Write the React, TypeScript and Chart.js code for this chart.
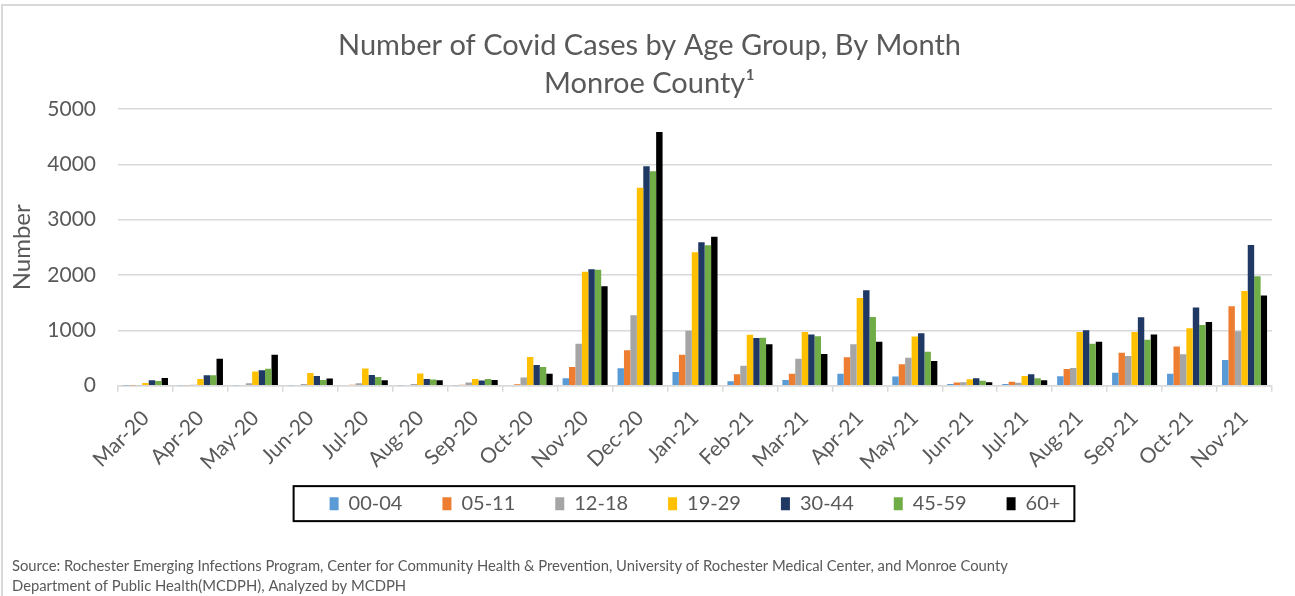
import React, { useEffect, useRef } from "react";
import { Chart, registerables } from "chart.js";

Chart.register(...registerables);

const months = [
  "Mar-20", "Apr-20", "May-20", "Jun-20", "Jul-20", "Aug-20", "Sep-20", "Oct-20",
  "Nov-20", "Dec-20", "Jan-21", "Feb-21", "Mar-21", "Apr-21", "May-21", "Jun-21",
  "Jul-21", "Aug-21", "Sep-21", "Oct-21", "Nov-21",
];

const age00to04 = [2, 5, 8, 8, 10, 8, 8, 10, 133, 313, 247, 78, 102, 217, 163, 28, 30, 169, 235, 217, 464];
const age05to11 = [3, 8, 12, 12, 15, 12, 14, 25, 337, 639, 560, 205, 217, 512, 386, 55, 72, 301, 596, 705, 1434];
const age12to18 = [8, 15, 42, 30, 42, 30, 55, 145, 759, 1271, 994, 358, 488, 747, 506, 62, 54, 319, 536, 566, 982];
const age19to29 = [48, 121, 255, 230, 309, 218, 121, 518, 2060, 3578, 2410, 920, 970, 1584, 886, 115, 175, 970, 970, 1036, 1711];
const age30to44 = [97, 188, 279, 176, 194, 121, 91, 373, 2102, 3964, 2590, 861, 922, 1723, 946, 135, 205, 1000, 1235, 1410, 2542];
const age45to59 = [85, 188, 303, 103, 158, 109, 121, 337, 2096, 3873, 2536, 867, 892, 1241, 614, 90, 133, 759, 831, 1096, 1976];
const age60plus = [139, 485, 558, 127, 97, 97, 103, 217, 1795, 4584, 2693, 747, 572, 795, 446, 60, 96, 795, 922, 1151, 1627];

const seriesLabels = ["00-04", "05-11", "12-18", "19-29", "30-44", "45-59", "60+"];
const seriesColors = ["#5B9BD5", "#ED7D31", "#A5A5A5", "#FFC000", "#203864", "#70AD47", "#000000"];
const seriesValues = [age00to04, age05to11, age12to18, age19to29, age30to44, age45to59, age60plus];

const titleLines = ["Number of Covid Cases by Age Group, By Month", "Monroe County\u00B9"];
const sourceLines = [
  "Source: Rochester Emerging Infections Program, Center for Community Health & Prevention, University of Rochester Medical Center, and Monroe County",
  "Department of Public Health(MCDPH), Analyzed by MCDPH",
];
const yAxisTitle = "Number";

const FONT = 'Lato, "Open Sans", "Noto Sans", sans-serif';
const TEXT = "#595959";
const GRID = "#D9D9D9";

const framePlugin = {
  id: "frame",
  beforeDraw(chart: any) {
    const ctx = chart.ctx;
    ctx.save();
    ctx.fillStyle = "#ffffff";
    ctx.fillRect(0, 0, chart.width, chart.height);
    ctx.strokeStyle = GRID;
    ctx.lineWidth = 2;
    ctx.strokeRect(2, 5, chart.width + 20, chart.height + 20);
    ctx.restore();
  },
  afterDraw(chart: any) {
    const lg = chart.legend;
    if (!lg || !lg.legendHitBoxes || !lg.legendHitBoxes.length) return;
    const hb = lg.legendHitBoxes;
    const first = hb[0];
    const last = hb[hb.length - 1];
    const cy = first.top + first.height / 2;
    const ctx = chart.ctx;
    ctx.save();
    ctx.strokeStyle = "#000000";
    ctx.lineWidth = 2;
    const left = first.left - 36;
    const right = last.left + last.width + 14;
    ctx.strokeRect(left, cy - 17.5, right - left, 35);
    ctx.restore();
  },
};

export default function App() {
  const ref = useRef<HTMLCanvasElement | null>(null);

  useEffect(() => {
    if (!ref.current) return;
    const chart = new Chart(ref.current, {
      type: "bar",
      data: {
        labels: months,
        datasets: seriesLabels.map((label, i) => ({
          label,
          data: seriesValues[i],
          backgroundColor: seriesColors[i],
          borderWidth: 0,
          categoryPercentage: 0.82,
          barPercentage: 1.0,
        })),
      },
      options: {
        responsive: false,
        animation: false,
        devicePixelRatio: 1,
        layout: { padding: { left: 12, right: 8, top: 0, bottom: 0 } },
        plugins: {
          title: {
            display: true,
            text: titleLines,
            color: TEXT,
            font: { family: FONT, size: 29, weight: "normal", lineHeight: 1.31 },
            padding: { top: 27, bottom: 6 },
          },
          subtitle: {
            display: true,
            position: "bottom",
            align: "start",
            text: sourceLines,
            color: TEXT,
            font: { family: FONT, size: 14.8, weight: "normal", lineHeight: 1.33 },
            padding: { top: 33, bottom: 0 },
          },
          legend: {
            display: true,
            position: "bottom",
            fullSize: false,
            labels: {
              color: TEXT,
              font: { family: FONT, size: 20 },
              boxWidth: 9,
              boxHeight: 13,
              padding: 40,
            },
          },
          tooltip: { enabled: false },
        },
        scales: {
          x: {
            grid: {
              drawOnChartArea: false,
              drawTicks: true,
              tickLength: 6,
              color: GRID,
              lineWidth: 1.5,
              offset: true,
            },
            border: { display: true, color: GRID, width: 1.5 },
            ticks: {
              color: TEXT,
              font: { family: FONT, size: 21 },
              minRotation: 45,
              maxRotation: 45,
              autoSkip: false,
              padding: 14,
            },
            afterFit: (s: any) => {
              s.height = 68;
              s._computeLabelArea = () => null;
            },
          },
          y: {
            min: 0,
            max: 5000,
            grid: { color: GRID, lineWidth: 1.5, drawTicks: false },
            border: { display: false },
            ticks: {
              stepSize: 1000,
              color: TEXT,
              font: { family: FONT, size: 21 },
              padding: 22,
              callback: (v: any) => String(v),
            },
            title: {
              display: true,
              text: yAxisTitle,
              color: TEXT,
              font: { family: FONT, size: 24, lineHeight: 1 },
              padding: { top: -2, bottom: 0 },
            },
            afterFit: (s: any) => {
              s.width = 106;
            },
          },
          y2: {
            position: "right",
            display: true,
            grid: { display: false },
            border: { display: false },
            ticks: { display: false },
            afterFit: (s: any) => {
              s.width = 15;
            },
          },
        },
      },
      plugins: [framePlugin],
    } as any);
    return () => chart.destroy();
  }, []);

  return (
    <div style={{ position: "fixed", left: 0, top: 0, width: 1295, height: 596, background: "#fff" }}>
      <canvas ref={ref} width={1295} height={596} style={{ display: "block", width: 1295, height: 596 }} />
    </div>
  );
}
